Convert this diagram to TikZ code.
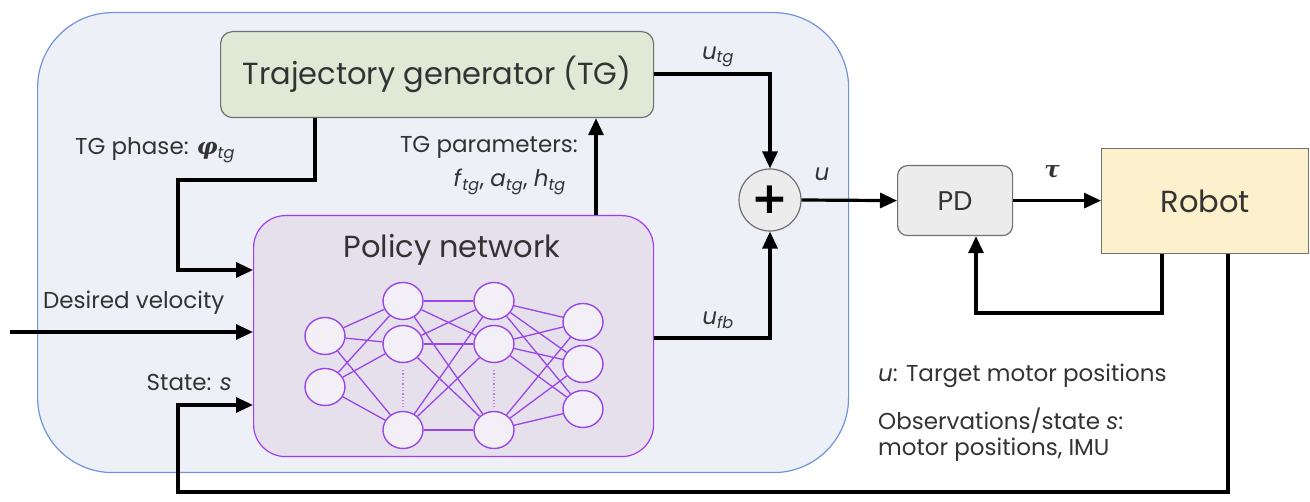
\documentclass[tikz,border=0pt]{standalone}
\usepackage{fontspec}
\setmainfont{Poppins}
\newfontfamily\grk{DejaVu Serif}
\newfontfamily\plusfont{DejaVu Sans}
\usetikzlibrary{arrows.meta,shapes.geometric,calc}
\definecolor{outerfill}{HTML}{EEF0F7}
\definecolor{outerdraw}{HTML}{6E94E0}
\definecolor{tgfill}{HTML}{DFE9D5}
\definecolor{polfill}{HTML}{E6E0EC}
\definecolor{poldraw}{HTML}{A13FF0}
\definecolor{nnfill}{HTML}{F3EFF7}
\definecolor{nndraw}{HTML}{9A45E8}
\definecolor{greyfill}{HTML}{ECECEC}
\definecolor{boxdraw}{HTML}{707070}
\definecolor{robfill}{HTML}{FDF0CC}
\definecolor{txt}{HTML}{333333}
\begin{document}
\begin{tikzpicture}[x=1pt,y=-1pt,
  box/.style={anchor=north west,inner sep=0pt,draw=boxdraw,line width=1.2pt,text=txt},
  arr/.style={line width=3.2pt,-{Triangle[length=17pt,width=15pt]}},
  lab/.style={text=txt,font=\fontsize{23}{27}\selectfont,inner sep=0pt},
  big/.style={font=\fontsize{30.5}{36}\selectfont},
  neuron/.style={ellipse,draw=nndraw,fill=nnfill,line width=1.4pt,minimum width=40pt,minimum height=37pt,inner sep=0pt},
  syn/.style={draw=nndraw,line width=1.3pt}]
\useasboundingbox (0,0) rectangle (1310,502);
% containers
\node[box,draw=outerdraw,fill=outerfill,minimum width=811pt,minimum height=460pt,rounded corners=75pt] (outer) at (37,12) {};
\node[box,fill=tgfill,minimum width=433pt,minimum height=86pt,rounded corners=12pt,big] (tg) at (220,31) {Trajectory generator (TG)};
\node[box,draw=poldraw,fill=polfill,minimum width=400pt,minimum height=241pt,rounded corners=32pt] (policy) at (253,215) {};
\node[big,text=txt] (poltitle) at (452,250) {Policy network};
\node[circle,draw=boxdraw,fill=greyfill,line width=1.2pt,minimum size=62pt,inner sep=0pt,font=\plusfont\bfseries\fontsize{44}{44}\selectfont] (plus) at (770,200) {+};
\node[box,fill=greyfill,minimum width=115pt,minimum height=70pt,rounded corners=10pt,font=\fontsize{27}{32}\selectfont] (pd) at (897,165) {PD};
\node[box,fill=robfill,minimum width=207pt,minimum height=105pt,rounded corners=0pt,big] (robot) at (1101,148) {Robot};
% neural network
\node[neuron] (n11) at (325,336) {};
\node[neuron] (n12) at (325,387) {};
\node[neuron] (n21) at (403,301) {};
\node[neuron] (n22) at (403,344) {};
\node[neuron] (n23) at (403,430) {};
\node[neuron] (n31) at (494,301) {};
\node[neuron] (n32) at (494,344) {};
\node[neuron] (n33) at (494,430) {};
\node[neuron] (n41) at (583,322) {};
\node[neuron] (n42) at (583,364) {};
\node[neuron] (n43) at (583,409) {};
\foreach \a in {n11,n12}{\foreach \b in {n21,n22,n23}{\draw[syn] (\a) -- (\b);}}
\foreach \a in {n21,n22,n23}{\foreach \b in {n31,n32,n33}{\draw[syn] (\a) -- (\b);}}
\foreach \a in {n31,n32,n33}{\foreach \b in {n41,n42,n43}{\draw[syn] (\a) -- (\b);}}
\draw[nndraw!70,line width=1.3pt,dotted] ($(n22.south)+(0,7)$) -- ($(n23.north)+(0,-4)$);
\draw[nndraw!70,line width=1.3pt,dotted] ($(n32.south)+(0,7)$) -- ($(n33.north)+(0,-4)$);
% connectors
\coordinate (c1) at (770,74);
\draw[arr] (tg.east |- c1) -- (c1) -- (plus.north);
\coordinate (c2) at (770,338);
\draw[arr] (policy.east |- c2) -- (c2) -- (plus.south);
\draw[arr] (plus.east) -- (pd.west);
\draw[arr] (pd.east) -- (robot.west |- pd.east);
\coordinate (fbA) at (1162,313);
\coordinate (fbB) at (976,313);
\draw[arr] (robot.south -| fbA) -- (fbA) -- (fbB) -- (pd.south -| fbB);
\coordinate (sA) at (1228,492);
\coordinate (sB) at (178,492);
\coordinate (sC) at (178,405);
\draw[arr] (robot.south -| sA) -- (sA) -- (sB) -- (sC) -- (policy.west |- sC);
\coordinate (pA) at (315,180);
\coordinate (pB) at (178,180);
\coordinate (pC) at (178,270);
\draw[arr] (tg.south -| pA) -- (pA) -- (pB) -- (pC) -- (policy.west |- pC);
\coordinate (qA) at (596,160);
\draw[arr] (policy.north -| qA) -- (tg.south -| qA);
\coordinate (dv) at (10,332);
\draw[arr] (dv) -- (policy.west |- dv);
% labels
\node[lab] (lutg) at (718,57) {\textit{u}\textsubscript{\textit{tg}}};
\node[lab] (lu) at (822,174) {\textit{u}};
\node[lab] (lufb) at (718,320) {\textit{u}\textsubscript{\textit{fb}}};
\node[lab] (ltau) at (1052,172) {{\grk\bfseries\itshape τ}};
\node[lab,anchor=west] (lphase) at (75,150) {TG phase: {\grk\bfseries\itshape φ}\textsubscript{\textit{tg}}};
\node[lab,anchor=east] (lparam) at (578,147) {TG parameters:};
\node[lab,anchor=east] (lparam2) at (566,182) {\textit{f}\textsubscript{\textit{tg}}, \textit{a}\textsubscript{\textit{tg}}, \textit{h}\textsubscript{\textit{tg}}};
\node[lab,anchor=west] (ldv) at (43,303) {Desired velocity};
\node[lab,anchor=east] (lstate) at (232,382) {State: \textit{s}};
\node[lab,anchor=west] (lnote1) at (878,376) {\textit{u}: Target motor positions};
\node[lab,anchor=west] (lnote2) at (878,421) {Observations/state \textit{s}:};
\node[lab,anchor=west] (lnote3) at (878,450) {motor positions, IMU};
\end{tikzpicture}
\end{document}
